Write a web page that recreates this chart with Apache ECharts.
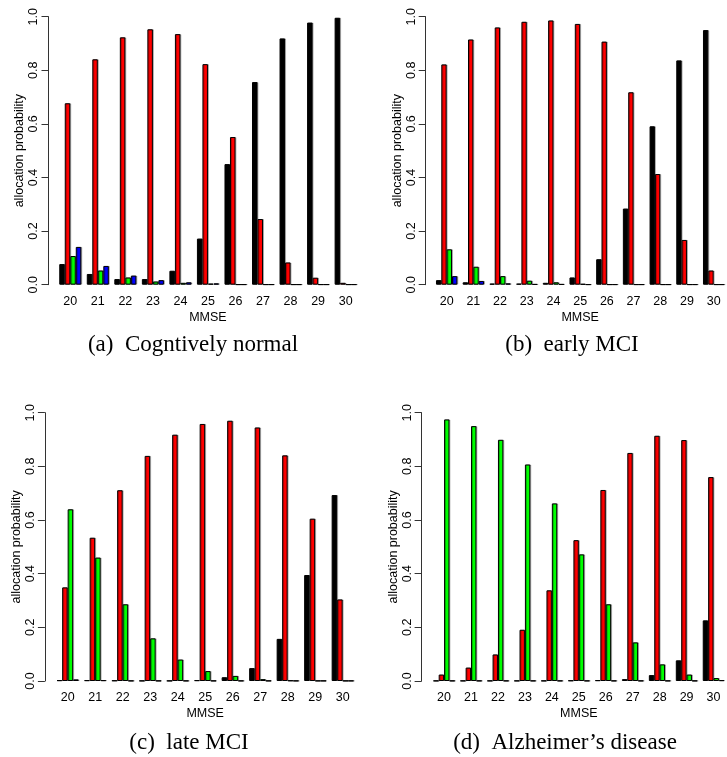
<!DOCTYPE html>
<html>
<head>
<meta charset="utf-8">
<script src="https://cdn.jsdelivr.net/npm/echarts@6/dist/echarts.min.js"></script>
<style>
html,body{margin:0;padding:0;background:#fff;}
#chart{width:727px;height:757px;}
</style>
</head>
<body>
<div id="chart"></div>
<script>
// MMSE categories
var mmse = ['20','21','22','23','24','25','26','27','28','29','30'];
var yTicks = [0, 0.2, 0.4, 0.6, 0.8, 1.0];
var seriesColors = ['#000000', '#ff0000', '#00ff00', '#0000ff'];
var seriesNames = ['class 1', 'class 2', 'class 3', 'class 4'];
var panelTitles = ['(a)  Cogntively normal', '(b)  early MCI', '(c)  late MCI', '(d)  Alzheimer\u2019s disease'];

// (a) Cognitively normal
var cnBlack = [0.077, 0.040, 0.021, 0.021, 0.052, 0.172, 0.450, 0.756, 0.919, 0.978, 0.996];
var cnRed   = [0.677, 0.841, 0.923, 0.953, 0.935, 0.823, 0.551, 0.245, 0.083, 0.026, 0.007];
var cnGreen = [0.107, 0.053, 0.027, 0.012, 0.007, 0.004, 0.001, 0.001, 0.001, 0.001, 0.001];
var cnBlue  = [0.141, 0.070, 0.034, 0.017, 0.009, 0.005, 0.001, 0.001, 0.001, 0.001, 0.001];

// (b) early MCI
var emBlack = [0.017, 0.009, 0.004, 0.004, 0.007, 0.027, 0.095, 0.284, 0.591, 0.837, 0.950];
var emRed   = [0.822, 0.915, 0.960, 0.981, 0.986, 0.973, 0.907, 0.718, 0.413, 0.167, 0.053];
var emGreen = [0.132, 0.067, 0.032, 0.015, 0.009, 0.003, 0.001, 0.001, 0.001, 0.001, 0.001];
var emBlue  = [0.032, 0.014, 0.005, 0.002, 0.002, 0.001, 0.001, 0.001, 0.001, 0.001, 0.001];

// (c) late MCI
var lmBlack = [0.003, 0.003, 0.002, 0.001, 0.001, 0.003, 0.014, 0.048, 0.157, 0.395, 0.693];
var lmRed   = [0.349, 0.534, 0.711, 0.839, 0.918, 0.958, 0.970, 0.945, 0.841, 0.605, 0.304];
var lmGreen = [0.640, 0.460, 0.286, 0.159, 0.080, 0.037, 0.019, 0.007, 0.002, 0.001, 0.001];
var lmBlue  = [0.006, 0.003, 0.001, 0.001, 0.001, 0.001, 0.001, 0.001, 0.001, 0.001, 0.001];

// (d) Alzheimer's disease
var adBlack = [0.001, 0.001, 0.001, 0.001, 0.001, 0.002, 0.003, 0.007, 0.022, 0.077, 0.226];
var adRed   = [0.024, 0.050, 0.099, 0.191, 0.338, 0.525, 0.712, 0.850, 0.914, 0.898, 0.760];
var adGreen = [0.975, 0.950, 0.899, 0.807, 0.662, 0.472, 0.286, 0.144, 0.062, 0.024, 0.011];
var adBlue  = [0.001, 0.001, 0.001, 0.001, 0.001, 0.001, 0.001, 0.001, 0.001, 0.001, 0.003];

var panels = [
  [cnBlack, cnRed, cnGreen, cnBlue],
  [emBlack, emRed, emGreen, emBlue],
  [lmBlack, lmRed, lmGreen, lmBlue],
  [adBlack, adRed, adGreen, adBlue]
];

// layout (pixels)
var grids = [
  {left: 56.5, top: 16.7, width: 302.9, height: 268.0},
  {left: 433.3, top: 16.7, width: 302.2, height: 268.0},
  {left: 53.9, top: 412.7, width: 302.5, height: 268.3},
  {left: 430.6, top: 412.7, width: 302.0, height: 268.3}
];
var yOffsets = [8, 7.6, 9, 9];
var captionPos = [[193, 345], [572, 345], [189, 743], [565, 743]];

var sans = 'Liberation Sans, Arial, Helvetica, sans-serif';
var axisColor = '#333';

var xAxes = [], yAxes = [], series = [], graphics = [];
grids.forEach(function (g, i) {
  xAxes.push({
    type: 'category', gridIndex: i, data: mmse,
    axisLine: {show: false}, axisTick: {show: false},
    axisLabel: {margin: 10, fontSize: 12.5, color: '#000', fontFamily: sans, interval: 0},
    name: 'MMSE', nameLocation: 'middle', nameGap: 26,
    nameTextStyle: {fontSize: 12.5, color: '#000', fontFamily: sans}
  });
  yAxes.push({
    type: 'value', gridIndex: i, min: 0, max: 1, interval: 0.2,
    offset: yOffsets[i],
    axisLine: {show: true, onZero: false, lineStyle: {color: axisColor, width: 1}},
    axisTick: {show: true, length: 7, lineStyle: {color: axisColor, width: 1}},
    splitLine: {show: false},
    axisLabel: {rotate: 90, margin: 8, fontSize: 12.5, color: '#000', fontFamily: sans,
      formatter: function (v) { return v.toFixed(1); }},
    name: 'allocation probability', nameLocation: 'middle', nameRotate: 90, nameGap: 22,
    nameTextStyle: {fontSize: 12.5, color: '#000', fontFamily: sans}
  });
  panels[i].forEach(function (vals, k) {
    series.push({
      type: 'bar', name: seriesNames[k], xAxisIndex: i, yAxisIndex: i,
      data: vals, barGap: '0%', barCategoryGap: '20%',
      itemStyle: {color: seriesColors[k], borderColor: '#000', borderWidth: 1,
        shadowColor: 'rgba(0,0,0,0.25)', shadowOffsetX: 1, shadowOffsetY: 0, shadowBlur: 0},
      emphasis: {disabled: true}, animation: false, silent: true
    });
  });
  graphics.push({
    type: 'text', x: captionPos[i][0], y: captionPos[i][1],
    style: {text: panelTitles[i], fontFamily: 'Liberation Serif, Times New Roman, serif',
      fontSize: 23, fill: '#000', textAlign: 'center', textVerticalAlign: 'middle'}
  });
});

var chart = echarts.init(document.getElementById('chart'), null, {renderer: 'canvas'});
chart.setOption({
  animation: false,
  backgroundColor: '#fff',
  grid: grids,
  xAxis: xAxes,
  yAxis: yAxes,
  series: series,
  graphic: graphics
});
</script>
</body>
</html>
